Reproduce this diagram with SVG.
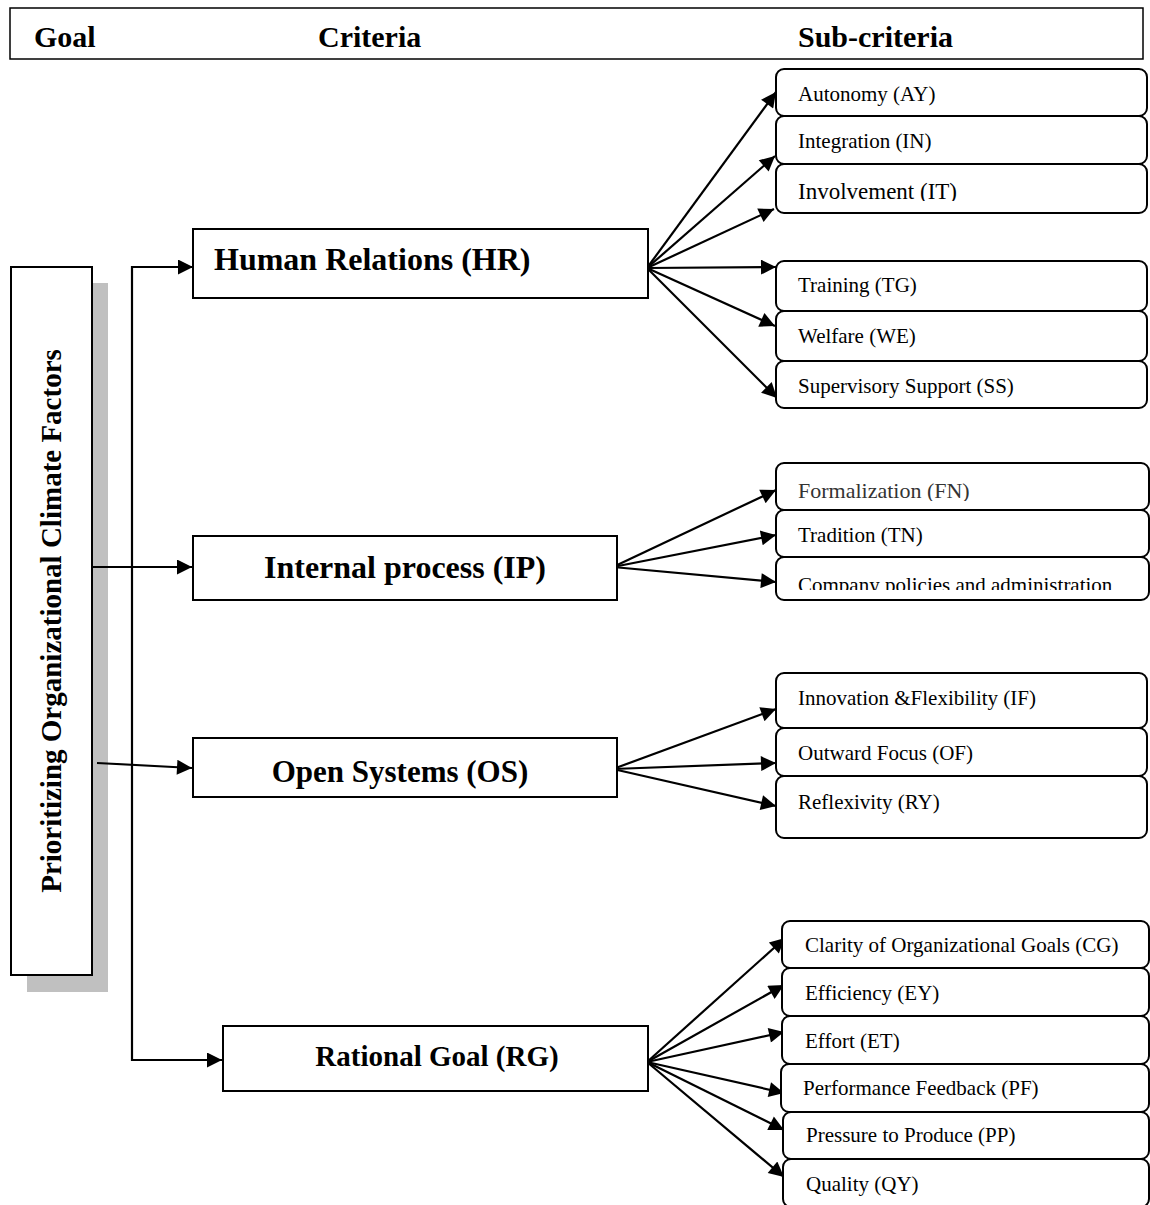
<svg xmlns="http://www.w3.org/2000/svg" width="1150" height="1205" viewBox="0 0 1150 1205">
<style>
  .box{fill:#fff;stroke:#000;stroke-width:2}
  .sub{fill:#fff;stroke:#000;stroke-width:2}
  .hdr{font-family:"Liberation Serif","Times New Roman",serif;font-weight:bold;font-size:30px;fill:#000}
  .crit{font-family:"Liberation Serif","Times New Roman",serif;font-weight:bold;font-size:32px;fill:#000}
  .st{font-family:"Liberation Serif","Times New Roman",serif;font-size:21px;fill:#000}
  .conn{fill:none;stroke:#000;stroke-width:2.2;marker-end:url(#arr)}
</style>
<defs>
  <marker id="arr" viewBox="0 0 10 10" refX="10" refY="5" markerUnits="userSpaceOnUse" markerWidth="19" markerHeight="15" orient="auto">
    <path d="M0,0 L10,5 L0,10 z" fill="#000"/>
  </marker>
  <clipPath id="clipIT"><rect x="776" y="165" width="372" height="36"/></clipPath>
  <clipPath id="clipFN"><rect x="776" y="463" width="373" height="38"/></clipPath>
  <clipPath id="clipCP"><rect x="776" y="557" width="373" height="33"/></clipPath>
</defs>

<g id="header">
  <rect x="10" y="8" width="1133" height="51" fill="#fff" stroke="#000" stroke-width="1.5"/>
  <text class="hdr" x="34" y="47">Goal</text>
  <text class="hdr" x="318" y="47">Criteria</text>
  <text class="hdr" x="798" y="47">Sub-criteria</text>
</g>

<g id="goal">
  <rect x="27" y="283" width="81" height="709" fill="#c0c0c0"/>
  <rect x="11" y="267" width="81" height="708" class="box"/>
  <text class="hdr" transform="translate(61,621) rotate(-90)" text-anchor="middle" style="font-size:29px">Prioritizing Organizational Climate Factors</text>
</g>

<g id="connectors">
  <path class="conn" d="M132,664 V267 H193"/>
  <path class="conn" d="M132,664 V1060 H222"/>
  <path class="conn" d="M92,567 H192"/>
  <path class="conn" d="M97,763 L192,768"/>

  <path class="conn" d="M647,268 L776,92"/>
  <path class="conn" d="M647,268 L775,156"/>
  <path class="conn" d="M647,268 L774,209"/>
  <path class="conn" d="M647,268 L776,267"/>
  <path class="conn" d="M647,268 L775,326"/>
  <path class="conn" d="M647,268 L777,398"/>

  <path class="conn" d="M613,567 L776,490"/>
  <path class="conn" d="M613,567 L776,535"/>
  <path class="conn" d="M613,567 L776,582"/>

  <path class="conn" d="M613,769 L776,709"/>
  <path class="conn" d="M613,769 L776,763"/>
  <path class="conn" d="M613,769 L776,806"/>

  <path class="conn" d="M647,1062 L785,938"/>
  <path class="conn" d="M647,1062 L784,985"/>
  <path class="conn" d="M647,1062 L784,1032"/>
  <path class="conn" d="M647,1062 L784,1093"/>
  <path class="conn" d="M647,1062 L784,1130"/>
  <path class="conn" d="M647,1062 L784,1177"/>
</g>

<g id="HR">
  <rect x="193" y="229" width="455" height="69" class="box"/>
  <text class="crit" x="214" y="270">Human Relations (HR)</text>
</g>
<g id="IP">
  <rect x="193" y="536" width="424" height="64" class="box"/>
  <text class="crit" x="405" y="578" text-anchor="middle">Internal process (IP)</text>
</g>
<g id="OS">
  <rect x="193" y="738" width="424" height="59" class="box"/>
  <text class="crit" x="400" y="782" text-anchor="middle" style="font-size:31px">Open Systems (OS)</text>
</g>
<g id="RG">
  <rect x="223" y="1026" width="425" height="65" class="box"/>
  <text class="crit" x="437" y="1066" text-anchor="middle" style="font-size:29px">Rational Goal (RG)</text>
</g>

<g id="AY"><rect x="776" y="69" width="371" height="47" rx="8" class="sub"/><text class="st" x="798" y="101">Autonomy (AY)</text></g>
<g id="IN"><rect x="776" y="116" width="371" height="48" rx="8" class="sub"/><text class="st" x="798" y="148">Integration (IN)</text></g>
<g id="IT"><rect x="776" y="164" width="371" height="49" rx="8" class="sub"/><text class="st" x="798" y="199" style="font-size:23px" clip-path="url(#clipIT)">Involvement (IT)</text></g>
<g id="TG"><rect x="776" y="261" width="371" height="50" rx="8" class="sub"/><text class="st" x="798" y="292">Training (TG)</text></g>
<g id="WE"><rect x="776" y="311" width="371" height="50" rx="8" class="sub"/><text class="st" x="798" y="343">Welfare (WE)</text></g>
<g id="SS"><rect x="776" y="361" width="371" height="47" rx="8" class="sub"/><text class="st" x="798" y="393">Supervisory Support (SS)</text></g>

<g id="FN"><rect x="776" y="463" width="373" height="47" rx="8" class="sub"/><text class="st" x="798" y="498" style="font-size:22px;fill:#333" clip-path="url(#clipFN)">Formalization (FN)</text></g>
<g id="TN"><rect x="776" y="510" width="373" height="47" rx="8" class="sub"/><text class="st" x="798" y="542">Tradition (TN)</text></g>
<g id="CP"><rect x="776" y="557" width="373" height="43" rx="8" class="sub"/><text class="st" x="798" y="592" clip-path="url(#clipCP)">Company policies and administration</text></g>

<g id="IF"><rect x="776" y="673" width="371" height="55" rx="8" class="sub"/><text class="st" x="798" y="705">Innovation &amp;Flexibility (IF)</text></g>
<g id="OF"><rect x="776" y="728" width="371" height="48" rx="8" class="sub"/><text class="st" x="798" y="760">Outward Focus (OF)</text></g>
<g id="RY"><rect x="776" y="776" width="371" height="62" rx="8" class="sub"/><text class="st" x="798" y="809">Reflexivity (RY)</text></g>

<g id="CG"><rect x="782" y="921" width="367" height="47" rx="8" class="sub"/><text class="st" x="805" y="952">Clarity of Organizational Goals (CG)</text></g>
<g id="EY"><rect x="782" y="968" width="367" height="48" rx="8" class="sub"/><text class="st" x="805" y="1000">Efficiency (EY)</text></g>
<g id="ET"><rect x="782" y="1016" width="367" height="48" rx="8" class="sub"/><text class="st" x="805" y="1048">Effort (ET)</text></g>
<g id="PF"><rect x="781" y="1064" width="368" height="48" rx="8" class="sub"/><text class="st" x="803" y="1095">Performance Feedback (PF)</text></g>
<g id="PP"><rect x="783" y="1112" width="366" height="47" rx="8" class="sub"/><text class="st" x="806" y="1142">Pressure to Produce (PP)</text></g>
<g id="QY"><rect x="783" y="1159" width="366" height="48" rx="8" class="sub"/><text class="st" x="806" y="1191">Quality (QY)</text></g>
</svg>
